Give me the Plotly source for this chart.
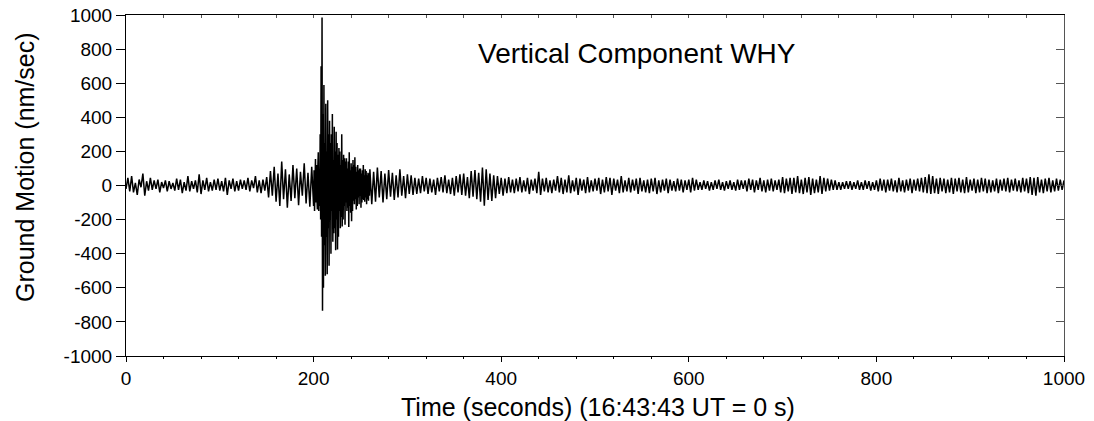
import numpy as np
import plotly.graph_objects as go

# Ground motion (nm/sec)
# pre-event: t = 0..198 s, every 2 s
pre_event = [
    -20, 45, -35, 55, -40, 15, -55, 35, -10, 70, -60, 25, -30, 45, -25, 30, -20, 35, -40, 20, -15, 30, -35, 25, -20,
    15, -30, 40, -25, 35, -45, 20, -30, 55, -35, 25, -20, 30, -40, 65, -50, 30, -25, 45, -35, 20, -30, 35, -25, 40,
    -30, 25, -35, 45, -55, 30, -20, 40, -35, 25, -30, 35, -20, 30, -25, 45, -35, 30, -15, 55, -40, 30, -45, 35, -30,
    50, -70, 85, -60, 110, -95, 70, -120, 140, -80, 95, -130, 65, -90, 120, -75, 100, -115, 80, -60, 130, -105, 75, -125, 110,
]
# main arrival: t = 200..259.5 s, every 0.5 s
main_event = [
    -120, 90, -150, 60, 155, -100, 120, -60, -140, 100,
    195, -150, 80, -120, 300, -200, 700, -300, 985, -735,
    420, -600, 590, -350, 250, -530, 480, -300, 200, -520,
    500, -250, 300, -470, 380, -200, 250, -400, 300, -150,
    420, -330, 150, -280, 345, -250, 200, -380, 315, -200,
    250, -375, 180, -300, 220, -150, 200, -250, 120, -185,
    300, -240, 150, -200, 180, -120, 160, -230, 140, -100,
    160, -150, 100, -130, 140, -243, 195, -120, 90, -160,
    130, -210, 110, -150, 150, -90, 120, -110, 165, -80,
    110, -140, 80, -120, 120, -70, 90, -110, 100, -60,
    100, -130, 70, -100, 90, -80, 120, -85, 60, -95,
    95, -70, 85, -110, 60, -80, 75, -90, 70, -60,
]
# coda and background: t = 260..1000 s, every 2 s
coda = [
    95, -110, 80, -95, 105, -70, 85, -100, 70, -80, 90, -65, 75, -85, 60, -70, 95, -60, 55, -75, 65, -50, 60, -55, 45,
    -50, 40, -45, 55, -35, 45, -50, 40, -40, 35, -55, 45, -35, 50, -40, 60, -45, 35, -50, 45, -60, 55, -40, 65, -55,
    70, -60, 50, -75, 85, -65, 90, -80, 75, -95, 105, -118, 95, -85, 70, -90, 60, -75, 55, -50, 45, -60, 40, -45, 50,
    -40, 35, -45, 40, -35, 50, -40, 30, -35, 45, -50, 35, -30, 40, -45, 80, -55, 40, -35, 45, -40, 30, -45, 35, -30,
    55, -40, 45, -50, 35, -40, 60, -45, 30, -35, 45, -55, 40, -30, 35, -45, 50, -40, 30, -35, 40, -30, 45, -50, 35,
    -40, 50, -35, 45, -55, 40, -30, 35, -45, 55, -40, 30, -35, 45, -40, 35, -30, 40, -50, 45, -35, 30, -40, 35, -45,
    40, -35, 45, -50, 30, -40, 35, -30, 40, -45, 35, -30, 25, -35, 40, -30, 35, -40, 30, -25, 35, -40, 45, -30, 35,
    -25, 20, -25, 30, -20, 25, -30, 20, -25, 30, -20, 35, -25, 20, -30, 25, -20, 30, -25, 20, -30, 35, -25, 30, -20,
    30, -35, 40, -25, 35, -40, 30, -25, 45, -35, 30, -40, 35, -30, 40, -35, 30, -25, 35, -40, 50, -45, 40, -35, 45,
    -50, 45, -40, 55, -45, 35, -50, 45, -40, 50, -55, 40, -45, 35, -40, 55, -50, 45, -35, 40, -30, 35, -25, 30, -25,
    20, -25, 20, -20, 25, -20, 25, -25, 20, -20, 30, -25, 20, -25, 30, -20, 25, -30, 20, -25, 30, -35, 40, -30, 35,
    -40, 35, -30, 40, -35, 30, -40, 45, -35, 30, -40, 35, -30, 40, -45, 35, -30, 40, -35, 45, -40, 50, -45, 65, -50,
    55, -45, 40, -50, 45, -35, 40, -45, 35, -40, 45, -50, 40, -35, 45, -40, 35, -45, 50, -40, 35, -30, 40, -45, 35,
    -40, 45, -35, 40, -45, 35, -40, 30, -35, 40, -45, 35, -30, 40, -35, 45, -40, 35, -30, 40, -35, 30, -40, 45, -35,
    40, -45, 50, -55, 45, -60, 50, -40, 35, -45, 40, -35, 45, -40, 30, -35, 40, -30, 35, -25, 30,
]

x_ticks = [0, 200, 400, 600, 800, 1000]
y_ticks = [-1000, -800, -600, -400, -200, 0, 200, 400, 600, 800, 1000]
y_tick_labels = ["-1000", "-800", "-600", "-400", "-200", "0", "200", "400", "600", "800", "1000"]

t = np.concatenate([
    2.0 * np.arange(len(pre_event)),
    200.0 + 0.5 * np.arange(len(main_event)),
    260.0 + 2.0 * np.arange(len(coda)),
])
v = np.array(pre_event + main_event + coda, dtype=float)

FONT = "Liberation Sans, Arial, Helvetica, sans-serif"

fig = go.Figure()
fig.add_trace(go.Scatter(x=t, y=v, mode="lines",
                         line=dict(color="black", width=1.5), showlegend=False,
                         hoverinfo="skip"))
fig.add_trace(go.Scatter(x=[None], y=[None], xaxis="x2", yaxis="y2",
                         showlegend=False, hoverinfo="skip"))

fig.update_layout(
    width=1094, height=421,
    margin=dict(l=126, r=30, t=15, b=65, autoexpand=False),
    paper_bgcolor="white", plot_bgcolor="white",
    font=dict(family=FONT, color="black", size=19),
    xaxis=dict(range=[0, 1000], tickvals=x_ticks, ticks="outside", ticklen=5,
               tickcolor="black", showline=True, linecolor="black", linewidth=1,
               showgrid=False, zeroline=False, tickfont=dict(size=19), automargin=False,
               minor=dict(dtick=40, tick0=0, ticks="outside", ticklen=2, tickcolor="black",
                          showgrid=False)),
    yaxis=dict(range=[-1000, 1000], tickvals=y_ticks, ticktext=y_tick_labels,
               ticks="outside", ticklen=9, automargin=False,
               tickcolor="black", showline=True, linecolor="black", linewidth=1,
               showgrid=False, zeroline=False, tickfont=dict(size=19)),
    xaxis2=dict(range=[0, 1000], overlaying="x", side="top", anchor="y", automargin=False,
                tickvals=x_ticks, ticks="inside", ticklen=3, tickcolor="#555",
                showticklabels=False, showline=True, linecolor="black", linewidth=1,
                showgrid=False, zeroline=False,
                minor=dict(dtick=40, tick0=0, ticks="inside", ticklen=3, tickcolor="#555",
                           showgrid=False)),
    yaxis2=dict(range=[-1000, 1000], overlaying="y", side="right", anchor="x", automargin=False,
                tickvals=y_ticks, ticks="inside", ticklen=8, tickcolor="#555",
                showticklabels=False, showline=True, linecolor="#555", linewidth=1,
                showgrid=False, zeroline=False),
    annotations=[
        dict(text="Vertical Component WHY", xref="paper", yref="paper",
             x=(637 - 126) / 938, y=(356 - 53) / 341,
             showarrow=False, font=dict(size=28, family=FONT), xanchor="center", yanchor="middle"),
        dict(text="Time (seconds) (16:43:43 UT = 0 s)", xref="paper", yref="paper",
             x=(598 - 126) / 938, y=-(407 - 356) / 341, showarrow=False,
             font=dict(size=25, family=FONT), xanchor="center", yanchor="middle"),
        dict(text="Ground Motion (nm/sec)", xref="paper", yref="paper",
             x=(25 - 126) / 938, y=(356 - 167) / 341, showarrow=False, textangle=-90,
             font=dict(size=25, family=FONT), xanchor="center", yanchor="middle"),
    ],
)

fig.write_html("out.html")
